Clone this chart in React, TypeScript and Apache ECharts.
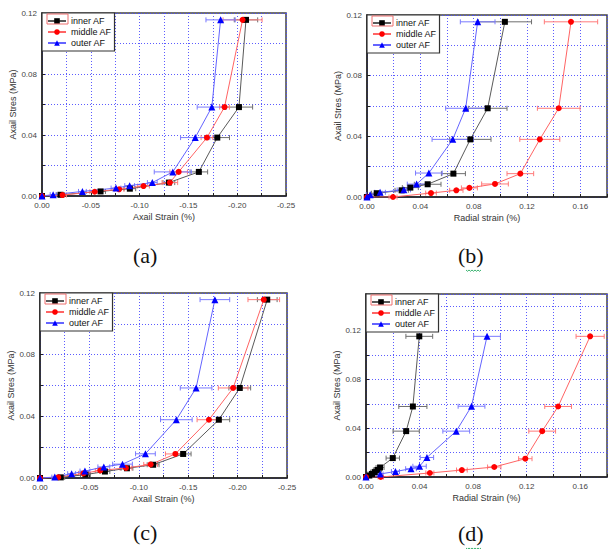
import React, { useEffect, useRef } from 'react';
import * as echarts from 'echarts';

// [strain, stress, strain error (half width)]
type Pt = [number, number, number];

const seriesNames = ['inner AF', 'middle AF', 'outer AF'];

const aInner: Pt[] = [[0, 0, 0.002], [-0.019, 0.0008, 0.004], [-0.06, 0.003, 0.005], [-0.09, 0.0048, 0.006], [-0.13, 0.0088, 0.006], [-0.1607, 0.0158, 0.009], [-0.1796, 0.0383, 0.0125], [-0.2018, 0.0583, 0.014], [-0.209, 0.1155, 0.012]];
const aMiddle: Pt[] = [[0, 0, 0.002], [-0.021, 0.0006, 0.004], [-0.054, 0.0028, 0.005], [-0.079, 0.0044, 0.005], [-0.104, 0.0065, 0.006], [-0.131, 0.0088, 0.008], [-0.14, 0.0158, 0.009], [-0.169, 0.0383, 0.006], [-0.187, 0.0583, 0.005], [-0.2055, 0.1155, 0.02]];
const aOuter: Pt[] = [[0, 0, 0.002], [-0.0114, 0.0009, 0.003], [-0.0414, 0.003, 0.004], [-0.0758, 0.0052, 0.005], [-0.0898, 0.0068, 0.005], [-0.113, 0.0088, 0.005], [-0.134, 0.0158, 0.019], [-0.157, 0.0383, 0.015], [-0.174, 0.0583, 0.015], [-0.183, 0.1155, 0.015]];

const bInner: Pt[] = [[0, 0, 0.002], [0.0073, 0.0025, 0.004], [0.026, 0.0044, 0.005], [0.0325, 0.0062, 0.006], [0.0455, 0.0084, 0.01], [0.0648, 0.0154, 0.009], [0.0775, 0.038, 0.0155], [0.0905, 0.0585, 0.0145], [0.1034, 0.1155, 0.02]];
const bMiddle: Pt[] = [[0, 0, 0.002], [0.0195, 0, 0.003], [0.048, 0.0026, 0.004], [0.067, 0.0044, 0.005], [0.0768, 0.006, 0.006], [0.096, 0.0086, 0.01], [0.115, 0.0154, 0.01], [0.1296, 0.038, 0.015], [0.1438, 0.0585, 0.016], [0.153, 0.1155, 0.02]];
const bOuter: Pt[] = [[0, 0, 0.002], [0.0024, 0.0015, 0.003], [0.0098, 0.0031, 0.004], [0.0276, 0.0047, 0.005], [0.0372, 0.0085, 0.007], [0.0464, 0.0158, 0.01], [0.0643, 0.038, 0.0155], [0.074, 0.0585, 0.015], [0.083, 0.1155, 0.013]];

const cInner: Pt[] = [[0, 0, 0.002], [-0.021, 0.0004, 0.004], [-0.046, 0.0022, 0.005], [-0.0657, 0.0042, 0.005], [-0.088, 0.0063, 0.006], [-0.1145, 0.0086, 0.006], [-0.1449, 0.0156, 0.008], [-0.181, 0.0378, 0.011], [-0.2022, 0.0584, 0.011], [-0.23, 0.1157, 0.01]];
const cMiddle: Pt[] = [[0, 0, 0.002], [-0.0185, 0.0005, 0.004], [-0.044, 0.003, 0.005], [-0.061, 0.0049, 0.005], [-0.087, 0.0065, 0.006], [-0.112, 0.0088, 0.007], [-0.137, 0.0156, 0.01], [-0.171, 0.0378, 0.012], [-0.1955, 0.0584, 0.015], [-0.2265, 0.1157, 0.016]];
const cOuter: Pt[] = [[0, 0, 0.002], [-0.015, 0.0006, 0.003], [-0.032, 0.0028, 0.004], [-0.0455, 0.0045, 0.005], [-0.0646, 0.0072, 0.006], [-0.0835, 0.009, 0.01], [-0.1067, 0.0157, 0.01], [-0.138, 0.0378, 0.016], [-0.158, 0.0584, 0.016], [-0.177, 0.1157, 0.015]];

const dInner: Pt[] = [[0, 0, 0.001], [0.0025, 0.0012, 0.002], [0.0045, 0.0025, 0.003], [0.0065, 0.004, 0.003], [0.0085, 0.0058, 0.003], [0.0105, 0.0078, 0.003], [0.02, 0.0155, 0.005], [0.03, 0.0376, 0.0098], [0.035, 0.0578, 0.0105], [0.0398, 0.1153, 0.01]];
const dMiddle: Pt[] = [[0, 0, 0.001], [0.011, 0, 0.002], [0.0477, 0.0033, 0.003], [0.0716, 0.0057, 0.004], [0.0958, 0.0082, 0.005], [0.119, 0.015, 0.005], [0.1316, 0.0376, 0.01], [0.1435, 0.0578, 0.01], [0.1674, 0.1153, 0.0105]];
const dOuter: Pt[] = [[0, 0, 0.001], [0.0107, 0.0025, 0.002], [0.022, 0.0045, 0.003], [0.0336, 0.0068, 0.004], [0.04, 0.0088, 0.005], [0.0455, 0.016, 0.005], [0.0674, 0.0376, 0.01], [0.0788, 0.058, 0.01], [0.0904, 0.1153, 0.01]];

const panelLabels = ['(a)', '(b)', '(c)', '(d)'];
const xTitles = ['Axail Strain (%)', 'Radial strain (%)', 'Axail Strain (%)', 'Radial Strain (%)'];
const yTitle = 'Axail Stres (MPa)';
const xRanges: [number, number, number, number][] = [
  // min, max, grid step, label step
  [-0.25, 0, 0.025, 0.05],
  [0, 0.18, 0.02, 0.04],
  [-0.25, 0, 0.025, 0.05],
  [0, 0.18, 0.02, 0.04],
];
const yRanges: [number, number, number, number][] = [
  [0, 0.12, 0.02, 0.04],
  [0, 0.12, 0.02, 0.04],
  [0, 0.12, 0.02, 0.04],
  [0, 0.15, 0.02, 0.04],
];
const panelData: Pt[][][] = [
  [aInner, aMiddle, aOuter],
  [bInner, bMiddle, bOuter],
  [cInner, cMiddle, cOuter],
  [dInner, dMiddle, dOuter],
];

// layout / style (not data)
const layouts = [
  { left: 42, top: 13, width: 244, height: 183, labelX: 148, labelY: 258 },
  { left: 367, top: 15, width: 245, height: 182, labelX: 473, labelY: 258 },
  { left: 40, top: 293, width: 247, height: 185, labelX: 148, labelY: 535 },
  { left: 366, top: 294, width: 242, height: 183, labelX: 473, labelY: 536 },
];
const styles = [
  { symbol: 'rect', size: 6, marker: '#000000', line: '#5a5a5a', err: '#6e6e6e' },
  { symbol: 'circle', size: 6, marker: '#ff0000', line: '#ff6464', err: '#ff7a7a' },
  { symbol: 'triangle', size: 7, marker: '#0000ff', line: '#6464ff', err: '#7a7aff' },
];
const FONT = 'Liberation Sans, Arial, sans-serif';

const fmt = (step: number) => (v: number) => {
  const r = v / step;
  return Math.abs(r - Math.round(r)) < 1e-6 ? v.toFixed(2) : '';
};

function buildOption() {
  const grid: any[] = [];
  const xAxis: any[] = [];
  const yAxis: any[] = [];
  const legend: any[] = [];
  const series: any[] = [];
  const graphic: any[] = [];

  layouts.forEach((L, i) => {
    const [xmin, xmax, xstep, xlab] = xRanges[i];
    const [ymin, ymax, ystep, ylab] = yRanges[i];
    grid.push({
      left: L.left, top: L.top, width: L.width, height: L.height,
      show: true, borderColor: '#444', borderWidth: 1.5, backgroundColor: 'transparent',
    });
    xAxis.push({
      type: 'value', gridIndex: i, min: xmin, max: xmax, interval: xstep,
      inverse: xmin < 0,
      name: xTitles[i], nameLocation: 'middle', nameGap: 16,
      nameTextStyle: { fontSize: 9, color: '#333', fontFamily: FONT },
      axisLine: { show: true, onZero: false, lineStyle: { color: '#222', width: 1.5 } },
      axisTick: { show: true, inside: true, length: 3, lineStyle: { color: '#222' } },
      axisLabel: { fontSize: 8, color: '#444', fontFamily: FONT, margin: 5, formatter: fmt(xlab), showMinLabel: true, showMaxLabel: true },
      splitLine: { show: true, lineStyle: { color: '#4a4aff', type: [1, 2], width: 1, opacity: 0.9 } },
    });
    yAxis.push({
      type: 'value', gridIndex: i, min: ymin, max: ymax, interval: ystep,
      name: yTitle, nameLocation: 'middle', nameGap: 24, nameRotate: 90,
      nameTextStyle: { fontSize: 9, color: '#333', fontFamily: FONT },
      axisLine: { show: true, onZero: false, lineStyle: { color: '#222', width: 1.5 } },
      axisTick: { show: true, inside: true, length: 3, lineStyle: { color: '#222' } },
      axisLabel: { fontSize: 8, color: '#444', fontFamily: FONT, margin: 5, formatter: fmt(ylab) },
      splitLine: { show: true, lineStyle: { color: '#4a4aff', type: [1, 2], width: 1, opacity: 0.9 } },
    });
    legend.push({
      orient: 'vertical', left: L.left, top: L.top, data: seriesNames,
      backgroundColor: '#fff', borderColor: '#333', borderWidth: 1.2,
      padding: [3, 3, 3, 5], itemGap: 1, itemWidth: 18, itemHeight: 7,
      textStyle: { fontSize: 9, color: '#111', fontFamily: FONT, lineHeight: 10 },
      selectedMode: false, z: 10,
    });

    panelData[i].forEach((pts, s) => {
      const st = styles[s];
      series.push({
        type: 'custom', name: `err-${i}-${s}`, xAxisIndex: i, yAxisIndex: i, z: 2,
        data: pts, encode: { x: 0, y: 1 }, silent: true,
        renderItem: (_p: any, api: any) => {
          const x = api.value(0), y = api.value(1), e = api.value(2);
          const p1 = api.coord([x - e, y]);
          const p2 = api.coord([x + e, y]);
          const h = 2.5;
          const stl = { stroke: st.err, lineWidth: 1 };
          return {
            type: 'group', children: [
              { type: 'line', shape: { x1: p1[0], y1: p1[1], x2: p2[0], y2: p2[1] }, style: stl },
              { type: 'line', shape: { x1: p1[0], y1: p1[1] - h, x2: p1[0], y2: p1[1] + h }, style: stl },
              { type: 'line', shape: { x1: p2[0], y1: p2[1] - h, x2: p2[0], y2: p2[1] + h }, style: stl },
            ],
          };
        },
      });
      series.push({
        type: 'line', name: seriesNames[s], xAxisIndex: i, yAxisIndex: i, z: 3,
        data: pts.map((p) => [p[0], p[1]]),
        symbol: st.symbol, symbolSize: st.size, showSymbol: true,
        itemStyle: { color: st.marker, borderWidth: 0 },
        lineStyle: { color: st.line, width: 1 },
      });
    });

    graphic.push({
      type: 'text', left: L.labelX - 15, top: L.labelY - 14,
      style: { text: panelLabels[i], font: '22px "Liberation Serif", "Times New Roman", serif', fill: '#111' },
    });
    // Origin selection highlight around first legend icon
    graphic.push({
      type: 'rect', shape: { x: L.left + 5, y: L.top + 1, width: 21, height: 10 },
      style: { fill: 'none', stroke: '#ee6f6f', lineWidth: 1 }, z: 20,
    });
    if (i === 1 || i === 3) {
      const pts: number[][] = [];
      const x0 = L.labelX - 7, y0 = L.labelY + 12;
      for (let k = 0; k <= 10; k++) pts.push([x0 + k * 1.5, y0 + (k % 2 === 0 ? 0 : 1.3)]);
      graphic.push({ type: 'polyline', shape: { points: pts }, style: { stroke: '#3cb371', lineWidth: 1, fill: 'none' } });
    }
  });

  return { animation: false, backgroundColor: '#fff', grid, xAxis, yAxis, legend, series, graphic };
}

export default function App() {
  const ref = useRef<HTMLDivElement>(null);
  useEffect(() => {
    if (!ref.current) return;
    const chart = echarts.init(ref.current, undefined, { renderer: 'svg' });
    chart.setOption(buildOption() as any);
    return () => chart.dispose();
  }, []);
  return <div ref={ref} style={{ position: 'absolute', left: 0, top: 0, width: 610, height: 549 }} />;
}
